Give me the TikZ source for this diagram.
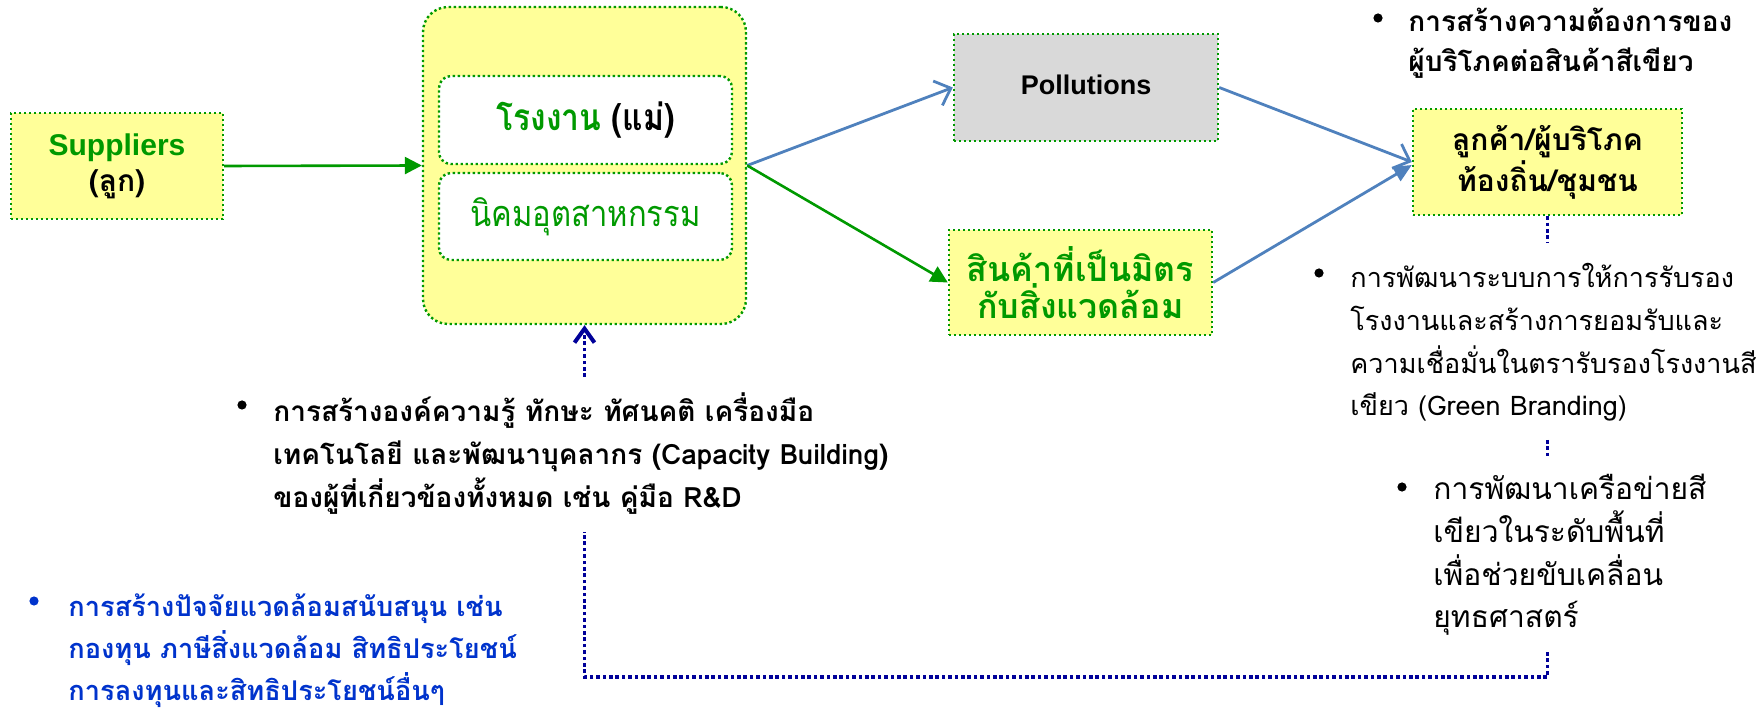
\documentclass[tikz,border=0pt]{standalone}
\usepackage{fontspec}
\usetikzlibrary{arrows.meta}
\newfontfamily\thai[Script=Thai]{Loma}
\newfontfamily\thaic[Script=Thai,FakeStretch=0.86]{Loma}
\newfontfamily\arial{Liberation Sans}
\definecolor{gr}{RGB}{0,153,0}
\definecolor{yel}{RGB}{255,255,153}
\definecolor{gry}{RGB}{217,217,217}
\definecolor{bl}{RGB}{79,129,189}
\definecolor{nv}{RGB}{0,0,153}
\definecolor{tblue}{RGB}{0,51,204}
\newcommand\tlines[2]{\vtop{\baselineskip=#1\lineskiplimit=-100pt\lineskip=0pt\relax #2}}
\tikzset{
  dotbox/.style={draw=gr, line width=1.2pt, dash pattern=on 1.2pt off 1.3pt, inner sep=0pt, align=center},
  ybox/.style={dotbox, fill=yel},
  garrow/.style={draw=gr, line width=1.3pt, -{Triangle[length=8.5pt,width=8.5pt]}},
  barbarrow/.style={draw=bl, line width=1.4pt, -{Straight Barb[length=7pt,width=13pt]}},
  btriarrow/.style={draw=bl, line width=1.4pt, -{Triangle[length=9pt,width=8pt]}},
  navydot/.style={draw=nv, line width=1.8pt, dash pattern=on 1.8pt off 1.4pt},
  navyarrow/.style={navydot, -{Straight Barb[length=7pt,width=10pt,line width=2pt]}},
  bul/.style={circle, fill, inner sep=0pt, minimum size=4.6pt},
  txt/.style={inner sep=0pt, anchor=base west},
}
\begin{document}
\begin{tikzpicture}[x=0.5pt,y=-0.5pt]
\useasboundingbox (0,0) rectangle (1756,710);
% boxes
\node[ybox, minimum width=106pt, minimum height=53pt, font=\bfseries\fontsize{15}{18}\selectfont] (sup) at (117,166)
  {\arial\color{gr}Suppliers\\\thai(ลูก)};
\node[ybox, rounded corners=12.5pt, minimum width=161.5pt, minimum height=158.5pt] (big) at (584.5,165.5) {};
\node[dotbox, fill=white, rounded corners=6pt, minimum width=146.5pt, minimum height=44pt, font=\thaic\bfseries\fontsize{18.5}{20}\selectfont] (fac) at (585.5,120)
  {\textcolor{gr}{โรงงาน} (แม่)};
\node[dotbox, fill=white, rounded corners=6pt, minimum width=146.5pt, minimum height=43.5pt, font=\thaic\fontsize{18}{20}\selectfont, text=gr] (est) at (585.5,216.5)
  {นิคมอุตสาหกรรม};
\node[dotbox, fill=gry, minimum width=132pt, minimum height=53.5pt, font=\arial\bfseries\fontsize{13.5}{16}\selectfont] (pol) at (1086,87.5)
  {\raisebox{3pt}{Pollutions}};
\node[ybox, minimum width=131.5pt, minimum height=52.5pt, font=\thai\bfseries\fontsize{17}{17}\selectfont, text=gr] (eco) at (1080.5,282.5)
  {สินค้าที่เป็นมิตร\\กับสิ่งแวดล้อม};
\node[ybox, minimum width=134.5pt, minimum height=53pt, font=\thai\bfseries\fontsize{15}{20.5}\selectfont] (cus) at (1547.5,162)
  {ลูกค้า/ผู้บริโภค\\ท้องถิ่น/ชุมชน};
% arrows
\draw[garrow] (sup.east) -- (big.west);
\draw[barbarrow] (big.east) -- (pol.west);
\draw[garrow] (big.east) -- (eco.west);
\draw[barbarrow] (pol.east) -- (cus.west);
\draw[btriarrow] (eco.east) -- ([yshift=-1.5pt]cus.west);
% text blocks
\node[bul] (b1) at (1378,18) {};
\node[txt, font=\thai\bfseries\fontsize{14}{20}\selectfont] (t1) at (1408,32)
  {\tlines{20pt}{\hbox{การสร้างความต้องการของ}\hbox{ผู้บริโภคต่อสินค้าสีเขียว}}};
\node[bul] (b2) at (242,405) {};
\node[txt, font=\thai\bfseries\fontsize{14}{21.5}\selectfont] (t2) at (273,422)
  {\tlines{21.5pt}{\hbox{การสร้างองค์ความรู้ ทักษะ ทัศนคติ เครื่องมือ}\hbox{เทคโนโลยี และพัฒนาบุคลากร (Capacity Building)}\hbox{ของผู้ที่เกี่ยวข้องทั้งหมด เช่น คู่มือ R\&D}}};
\node[bul] (b3) at (1319,273) {};
\node[txt, font=\thai\fontsize{13.5}{21.3}\selectfont] (t3) at (1350,288)
  {\tlines{21.3pt}{\hbox{การพัฒนาระบบการให้การรับรอง}\hbox{โรงงานและสร้างการยอมรับและ}\hbox{ความเชื่อมั่นในตรารับรองโรงงานสี}\hbox{เขียว (Green Branding)}}};
\node[bul] (b4) at (1402,487) {};
\node[txt, font=\thai\fontsize{15}{21.3}\selectfont] (t4) at (1433,500)
  {\tlines{21.3pt}{\hbox{การพัฒนาเครือข่ายสี}\hbox{เขียวในระดับพื้นที่}\hbox{เพื่อช่วยขับเคลื่อน}\hbox{ยุทธศาสตร์}}};
\node[bul, fill=tblue] (b5) at (34,601) {};
\node[txt, font=\thai\bfseries\fontsize{13.6}{21}\selectfont, text=tblue] (t5) at (68,617)
  {\tlines{21pt}{\hbox{การสร้างปัจจัยแวดล้อมสนับสนุน เช่น}\hbox{กองทุน ภาษีสิ่งแวดล้อม สิทธิประโยชน์}\hbox{การลงทุนและสิทธิประโยชน์อื่นๆ}}};
% dotted connectors
\coordinate (capTop) at (584.5,377);
\draw[navyarrow] (capTop) -- (big.south);
\coordinate (d1) at (1547.5,243);
\draw[navydot] (cus.south) -- (d1);
\coordinate (d2a) at (1547.5,440);
\coordinate (d2b) at (1547.5,458);
\draw[navydot] (d2a) -- (d2b);
\coordinate (netEnd) at (1547.5,652);
\coordinate (lowR) at (1547.5,677);
\coordinate (lowL) at (584.5,677);
\coordinate (capBot) at (584.5,532);
\draw[navydot] (netEnd) -- (lowR) -- (lowL) -- (capBot);
\end{tikzpicture}
\end{document}
